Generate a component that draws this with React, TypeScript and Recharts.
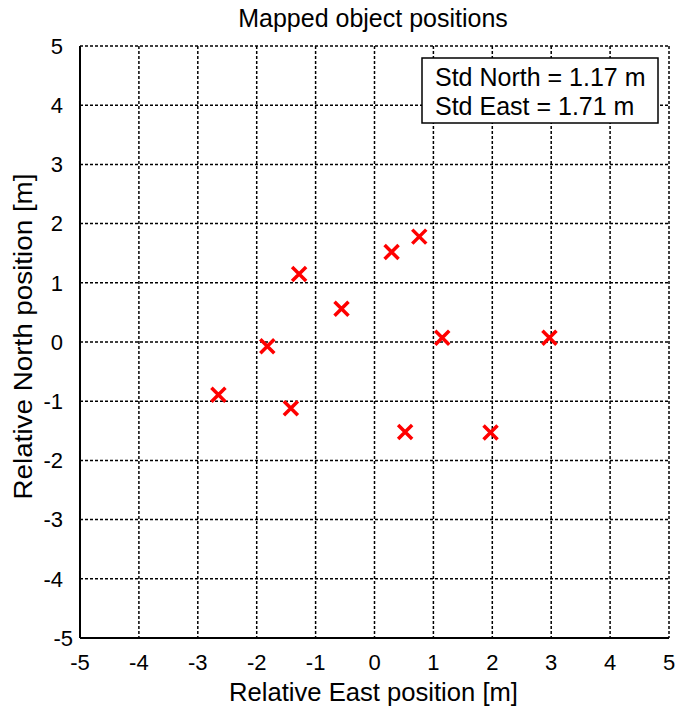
import React from "react";
import {
  ScatterChart,
  Scatter,
  XAxis,
  YAxis,
  CartesianGrid,
  Customized,
} from "recharts";

const eastValues = [-2.65, -1.82, -1.42, -1.28, -0.56, 0.29, 0.76, 1.15, 0.52, 1.97, 2.97];
const northValues = [-0.89, -0.07, -1.12, 1.15, 0.56, 1.52, 1.78, 0.07, -1.52, -1.53, 0.07];
const axisTicks = [-5, -4, -3, -2, -1, 0, 1, 2, 3, 4, 5];
const titleText = "Mapped object positions";
const xLabelText = "Relative East position [m]";
const yLabelText = "Relative North position [m]";
const legendLines = ["Std North = 1.17 m", "Std East = 1.71 m"];

const points = eastValues.map((e, i) => ({ east: e, north: northValues[i] }));

const FONT = "'Liberation Sans', Arial, sans-serif";

const CrossMarker = (props: any) => {
  const { cx, cy } = props;
  if (cx == null || cy == null) return null;
  const h = 7;
  return (
    <path
      d={`M${cx - h},${cy - h}L${cx + h},${cy + h}M${cx - h},${cy + h}L${cx + h},${cy - h}`}
      stroke="#ff0000"
      strokeWidth={3.5}
      fill="none"
    />
  );
};

const YTick = (props: any) => {
  const { x, y, payload } = props;
  const shift = payload.value === -5 ? 10 : 0;
  return (
    <text
      x={x + shift}
      y={y}
      dy="0.355em"
      textAnchor="end"
      fontSize={22}
      fontFamily={FONT}
      fill="#000"
    >
      {payload.value}
    </text>
  );
};

const XTick = (props: any) => {
  const { x, y, payload } = props;
  return (
    <text x={x} y={y} dy="0.71em" textAnchor="middle" fontSize={22} fontFamily={FONT} fill="#000">
      {payload.value}
    </text>
  );
};

const Decorations = () => (
  <g fontFamily={FONT}>
    <text x={373} y={27} textAnchor="middle" fontSize={25} fill="#000">
      {titleText}
    </text>
    <text
      x={373.5}
      y={701}
      textAnchor="middle"
      fontSize={25}
      textLength={289}
      lengthAdjust="spacingAndGlyphs"
      fill="#000"
    >
      {xLabelText}
    </text>
    <text
      transform="rotate(-90)"
      x={-336.5}
      y={32}
      textAnchor="middle"
      fontSize={25}
      textLength={326}
      lengthAdjust="spacingAndGlyphs"
      fill="#000"
    >
      {yLabelText}
    </text>
    <rect x={422} y={58} width={236} height={65} fill="#fff" stroke="#000" strokeWidth={1.5} />
    <text x={435} y={86} fontSize={25} fill="#000">
      {legendLines[0]}
    </text>
    <text x={435} y={115} fontSize={25} fill="#000">
      {legendLines[1]}
    </text>
  </g>
);

export default function App() {
  return (
    <div style={{ position: "absolute", left: 0, top: 0, width: 678, height: 710, background: "#fff" }}>
      <ScatterChart
        width={678}
        height={710}
        margin={{ top: 46, right: 9, bottom: 0, left: 0 }}
        style={{ fontFamily: FONT }}
      >
        <CartesianGrid stroke="#000" strokeDasharray="3 2" strokeWidth={1.5} />
        <XAxis
          type="number"
          dataKey="east"
          domain={[-5, 5]}
          ticks={axisTicks}
          interval={0}
          height={72}
          tickSize={0}
          tickMargin={16}
          axisLine={{ stroke: "#000", strokeWidth: 2 }}
          tick={XTick}
        />
        <YAxis
          type="number"
          dataKey="north"
          domain={[-5, 5]}
          ticks={axisTicks}
          interval={0}
          width={80}
          tickSize={0}
          tickMargin={17}
          axisLine={{ stroke: "#000", strokeWidth: 2 }}
          tick={YTick}
        />
        <Scatter data={points} shape={CrossMarker} isAnimationActive={false} />
        <Customized component={Decorations} />
      </ScatterChart>
    </div>
  );
}
